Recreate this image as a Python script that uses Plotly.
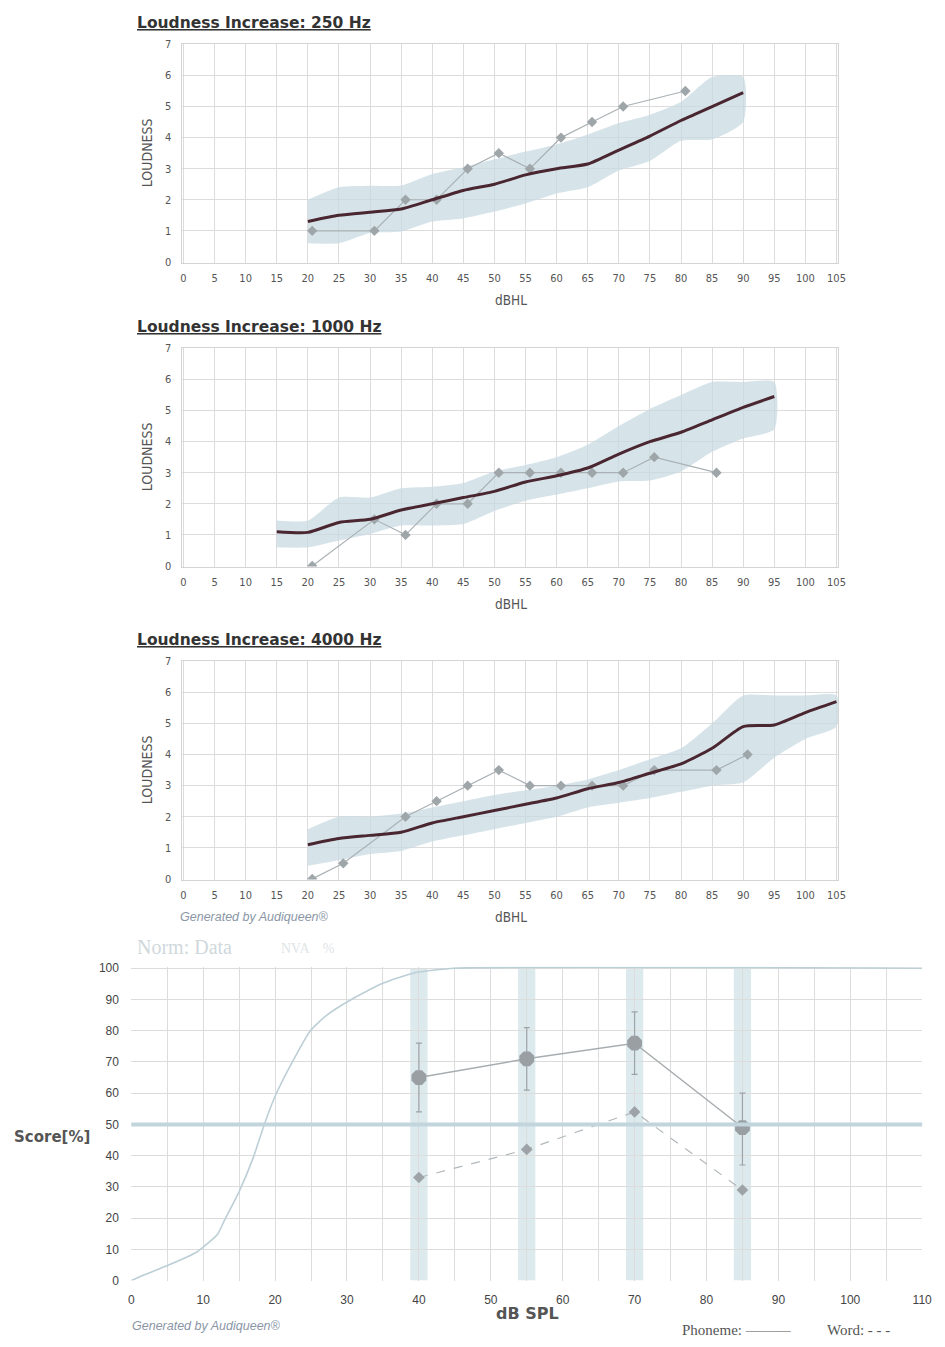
import plotly.graph_objects as go

# ---------------- DATA ----------------
ticks_db = list(range(0, 106, 5))

# 250 Hz
meas_x_250 = [20, 30, 35, 40, 45, 50, 55, 60, 65, 70, 80]
meas_y_250 = [1, 1, 2, 2, 3, 3.5, 3, 4, 4.5, 5, 5.5]
norm_x_250 = [20, 25, 30, 35, 40, 45, 50, 55, 60, 65, 70, 75, 80, 85, 90]
norm_y_250 = [1.3, 1.5, 1.6, 1.7, 2.0, 2.3, 2.5, 2.8, 3.0, 3.15, 3.6, 4.05, 4.55, 5.0, 5.45]
norm_lo_250 = [0.6, 0.6, 0.93, 0.98, 1.3, 1.4, 1.62, 1.88, 2.2, 2.4, 2.94, 3.25, 3.9, 3.94, 4.5]
norm_hi_250 = [2.0, 2.4, 2.45, 2.46, 2.83, 3.05, 3.3, 3.55, 3.78, 4.1, 4.47, 4.73, 5.15, 5.95, 5.95]

# 1000 Hz
meas_x_1k = [20, 30, 35, 40, 45, 50, 55, 60, 65, 70, 75, 85]
meas_y_1k = [0, 1.5, 1, 2, 2, 3, 3, 3, 3, 3, 3.5, 3]
norm_x_1k = [15, 20, 25, 30, 35, 40, 45, 50, 55, 60, 65, 70, 75, 80, 85, 90, 95]
norm_y_1k = [1.1, 1.08, 1.4, 1.5, 1.8, 2.0, 2.2, 2.4, 2.7, 2.9, 3.15, 3.6, 4.0, 4.3, 4.7, 5.1, 5.45]
norm_lo_1k = [0.6, 0.6, 0.82, 1.03, 1.3, 1.3, 1.35, 1.77, 2.1, 2.3, 2.5, 2.72, 2.75, 3.04, 3.67, 4.1, 4.4]
norm_hi_1k = [1.46, 1.46, 2.2, 2.2, 2.5, 2.55, 2.67, 3.04, 3.25, 3.5, 3.9, 4.5, 5.05, 5.5, 5.92, 5.92, 5.92]

# 4000 Hz
meas_x_4k = [20, 25, 35, 40, 45, 50, 55, 60, 65, 70, 75, 85, 90]
meas_y_4k = [0, 0.5, 2, 2.5, 3, 3.5, 3, 3, 3, 3, 3.5, 3.5, 4]
norm_x_4k = [20, 25, 30, 35, 40, 45, 50, 55, 60, 65, 70, 75, 80, 85, 90, 95, 100, 105]
norm_y_4k = [1.1, 1.3, 1.4, 1.5, 1.8, 2.0, 2.2, 2.4, 2.6, 2.9, 3.1, 3.4, 3.7, 4.2, 4.9, 4.95, 5.35, 5.7]
norm_lo_4k = [0.42, 0.6, 0.8, 0.9, 1.2, 1.4, 1.6, 1.8, 2.0, 2.3, 2.45, 2.6, 2.8, 3.0, 3.1, 3.9, 4.5, 4.9]
norm_hi_4k = [1.6, 2.0, 2.0, 2.1, 2.3, 2.5, 2.7, 2.85, 3.0, 3.2, 3.5, 3.85, 4.2, 5.0, 5.9, 5.9, 5.9, 5.9]

# Speech audiogram
speech_levels = [40, 55, 70, 85]
phoneme_score = [65, 71, 76, 49]
phoneme_err_hi = [11, 10, 10, 11]
phoneme_err_lo = [11, 10, 10, 12]
word_score = [33, 42, 54, 29]
norm_speech_x = [0, 2, 5, 9, 10, 12, 13, 15, 17, 18.5, 20, 22.4, 24.9, 27.2, 30.6, 34.8, 39.3, 45, 110]
norm_speech_y = [0, 2, 4.8, 9, 10.7, 14.8, 19.5, 28.5, 39.6, 50, 59, 70, 80, 85, 90, 95, 98.5, 100, 100]
speech_ticks = list(range(0, 111, 10))

# page offset (body margin of the html page)
OFF = 8
W, H = 945 - OFF, 1347 - OFF
GRID = "#dcdcdc"
CLEAR = "rgba(0,0,0,0)"
TICKFONT = dict(family="DejaVu Sans Condensed, Liberation Sans, sans-serif", size=11, color="#555555")


def px(x):
    return (x - OFF) / W


def py(y):
    return 1 - (y - OFF) / H


def xd(l, r):
    return [px(l), px(r)]


def yd(t, b):
    return [py(b), py(t)]


fig = go.Figure()

panels = [
    ("250 Hz", meas_x_250, meas_y_250, norm_x_250, norm_y_250, norm_lo_250, norm_hi_250, 38, 259, ""),
    ("1000 Hz", meas_x_1k, meas_y_1k, norm_x_1k, norm_y_1k, norm_lo_1k, norm_hi_1k, 345, 566, "2"),
    ("4000 Hz", meas_x_4k, meas_y_4k, norm_x_4k, norm_y_4k, norm_lo_4k, norm_hi_4k, 661, 882, "3"),
]

annotations = []
for title, mx, my, nx, ny, nlo, nhi, top, bot, sfx in panels:
    xa, ya = "x" + sfx, "y" + sfx
    fig.add_trace(go.Scatter(x=nx + nx[::-1], y=nhi + nlo[::-1], fill="toself",
                             fillcolor="rgba(200,219,227,0.75)", line=dict(width=0, shape="spline", smoothing=0.6),
                             mode="lines", xaxis=xa, yaxis=ya, showlegend=False, hoverinfo="skip"))
    fig.add_trace(go.Scatter(x=[v + 0.7 for v in mx], y=my, mode="lines+markers",
                             line=dict(color="#aab1b4", width=1.2),
                             marker=dict(symbol="diamond", size=8, color="#9fa6aa"),
                             xaxis=xa, yaxis=ya, showlegend=False))
    fig.add_trace(go.Scatter(x=nx, y=ny, mode="lines",
                             line=dict(color="#4a2630", width=3, shape="spline", smoothing=0.6),
                             xaxis=xa, yaxis=ya, showlegend=False))
    axx = dict(domain=xd(181, 847), range=[-0.3, 105.3], tickvals=ticks_db, ticktext=[str(t) for t in ticks_db],
               showgrid=True, gridcolor=GRID, zeroline=False, showline=True, linecolor="#d4d4d4", mirror=True,
               tickfont=TICKFONT, anchor=ya, ticks="outside", ticklen=5, tickcolor=CLEAR)
    axy = dict(domain=yd(top, bot), range=[-0.02, 7.02], dtick=1, showgrid=True, gridcolor=GRID, zeroline=False,
               showline=True, linecolor="#d4d4d4", mirror=True, tickfont=TICKFONT, anchor=xa,
               ticks="outside", ticklen=7, tickcolor=CLEAR)
    fig.update_layout(**{("xaxis" + sfx): axx, ("yaxis" + sfx): axy})
    annotations.append(dict(text="<b><u>Loudness Increase: " + title + "</u></b>", x=px(134), y=py(top - 21),
                            xref="paper", yref="paper", xanchor="left", yanchor="middle", showarrow=False,
                            font=dict(family="DejaVu Sans, sans-serif", size=15.5, color="#333333")))
    annotations.append(dict(text="LOUDNESS", x=px(146), y=py((top + bot) / 2), xref="paper", yref="paper",
                            textangle=-90, showarrow=False, xanchor="center", yanchor="middle",
                            font=dict(family="DejaVu Sans Condensed, sans-serif", size=14, color="#555555")))
    annotations.append(dict(text="dBHL", x=px(515), y=py(bot + 38), xref="paper", yref="paper",
                            showarrow=False, xanchor="center", yanchor="middle",
                            font=dict(family="DejaVu Sans Condensed, sans-serif", size=13.5, color="#555555")))

annotations.append(dict(text="<i>Generated by Audiqueen®</i>", x=px(177), y=py(920), xref="paper", yref="paper",
                        xanchor="left", yanchor="middle", showarrow=False,
                        font=dict(family="Liberation Sans, sans-serif", size=12.5, color="#8a96a6")))

# ---------------- Speech chart ----------------
xa, ya = "x4", "y4"
shapes = []
for lv in speech_levels:
    shapes.append(dict(type="rect", xref=xa, yref=ya, x0=lv - 1.2, x1=lv + 1.2, y0=0, y1=100,
                       fillcolor="rgba(205,223,230,0.7)", line=dict(width=0), layer="below"))
shapes.append(dict(type="line", xref="x4 domain", yref=ya, x0=0, x1=1, y0=50, y1=50,
                   line=dict(color="#c2d5dd", width=4), layer="above"))

fig.add_trace(go.Scatter(x=norm_speech_x, y=norm_speech_y, mode="lines",
                         line=dict(color="#bccfd6", width=1.6, shape="spline", smoothing=0.5),
                         xaxis=xa, yaxis=ya, showlegend=False))
fig.add_trace(go.Scatter(x=speech_levels, y=word_score, mode="lines+markers",
                         line=dict(color="#b2b8bb", width=1.2, dash="dash"),
                         marker=dict(symbol="diamond", size=9, color="#9da3a7"),
                         xaxis=xa, yaxis=ya, showlegend=False))
fig.add_trace(go.Scatter(x=speech_levels, y=phoneme_score, mode="lines+markers",
                         line=dict(color="#a8adb0", width=1.5),
                         marker=dict(symbol="octagon", size=16, color="#9a9fa3"),
                         error_y=dict(type="data", array=phoneme_err_hi, arrayminus=phoneme_err_lo,
                                      color="#9da3a7", thickness=1.2, width=3),
                         xaxis=xa, yaxis=ya, showlegend=False))

fig.update_layout(
    xaxis4=dict(domain=xd(130, 932), range=[0, 110], tickvals=speech_ticks, showgrid=True, gridcolor=GRID,
                minor=dict(dtick=5, showgrid=True, gridcolor=GRID), zeroline=False, showline=False,
                tickfont=dict(family="Liberation Sans, sans-serif", size=12, color="#444444"), anchor=ya,
                ticks="outside", ticklen=8, tickcolor=CLEAR),
    yaxis4=dict(domain=yd(970, 1287), range=[0, 100.5], dtick=10, showgrid=True, gridcolor=GRID, zeroline=False,
                showline=False, tickfont=dict(family="Liberation Sans, sans-serif", size=12, color="#444444"),
                anchor=xa, ticks="outside", ticklen=9, tickcolor=CLEAR),
)

annotations += [
    dict(text="<b>Score[%]</b>", x=px(9), y=py(1142), xref="paper", yref="paper", xanchor="left",
         yanchor="middle", showarrow=False, font=dict(family="DejaVu Sans, sans-serif", size=15, color="#555555")),
    dict(text="<b>dB SPL</b>", x=px(532), y=py(1320), xref="paper", yref="paper", xanchor="center",
         yanchor="middle", showarrow=False, font=dict(family="DejaVu Sans, sans-serif", size=16, color="#555555")),
    dict(text="Norm: Data", x=px(134), y=py(950), xref="paper", yref="paper", xanchor="left",
         yanchor="middle", showarrow=False, font=dict(family="Liberation Serif, serif", size=20, color="#d0d8dc")),
    dict(text="NVA    %", x=px(280), y=py(952), xref="paper", yref="paper", xanchor="left",
         yanchor="middle", showarrow=False, font=dict(family="Liberation Serif, serif", size=14, color="#e0e5e7")),
    dict(text="<i>Generated by Audiqueen®</i>", x=px(129), y=py(1333), xref="paper", yref="paper",
         xanchor="left", yanchor="middle", showarrow=False,
         font=dict(family="Liberation Sans, sans-serif", size=12.5, color="#8a96a6")),
    dict(text="Phoneme: ———", x=px(686), y=py(1337), xref="paper", yref="paper", xanchor="left",
         yanchor="middle", showarrow=False, font=dict(family="Liberation Serif, serif", size=15, color="#555555")),
    dict(text="Word: - - -", x=px(833), y=py(1337), xref="paper", yref="paper", xanchor="left",
         yanchor="middle", showarrow=False, font=dict(family="Liberation Serif, serif", size=15, color="#555555")),
]

fig.update_layout(width=W, height=H, margin=dict(l=0, r=0, t=0, b=0), paper_bgcolor="white",
                  plot_bgcolor="white", annotations=annotations, shapes=shapes, showlegend=False)

fig.write_html("out.html")
